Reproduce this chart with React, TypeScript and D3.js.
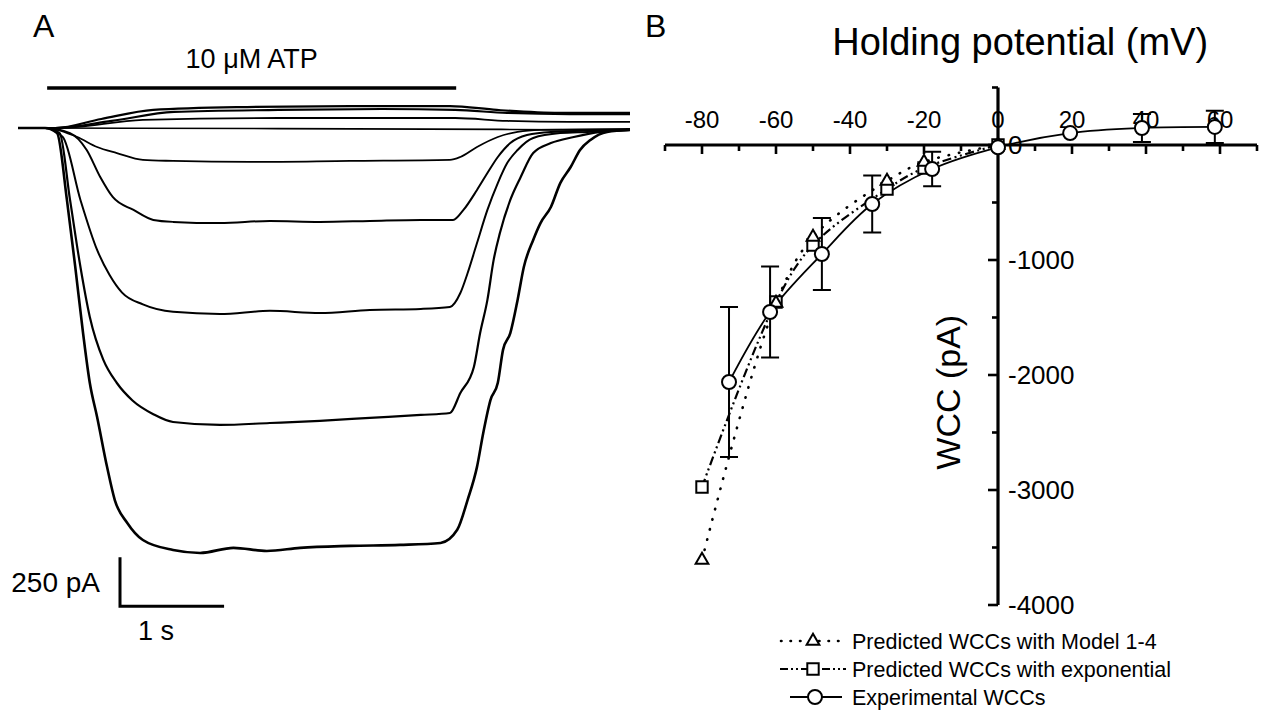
import { useRef, useEffect } from 'react';
import * as d3 from 'd3';

// Panel A: whole-cell current traces, [time (s), current (pA)]
const traceOutA: [number, number][] = [[0, 0], [0.36, 0], [0.8, 46], [1.3, 92], [2.2, 107], [3.2, 112], [4.15, 112], [4.6, 92], [5.2, 77], [5.88, 77]];
const traceOutB: [number, number][] = [[0, 0], [0.36, 0], [0.9, 36], [1.5, 82], [2.5, 92], [3.5, 97], [4.2, 92], [4.7, 77], [5.3, 71], [5.88, 71]];
const traceOutC: [number, number][] = [[0, 0], [0.4, 0], [1.2, 41], [2.5, 51], [4.2, 51], [4.7, 36], [5.3, 31], [5.88, 31]];
const traceFlat: [number, number][] = [[0, 0], [2.5, -3], [5.88, -10]];
const trace1: [number, number][] = [[0, 0], [0.26, 0], [0.57, -46], [0.76, -97], [0.95, -128], [1.2, -163], [1.49, -168], [2.23, -173], [3.19, -168], [4.15, -163], [4.25, -148], [4.41, -97], [4.61, -46], [4.8, -20], [5.02, -10], [5.88, -5]];
const trace2: [number, number][] = [[0, 0], [0.26, 0], [0.5, -26], [0.66, -112], [0.79, -250], [0.91, -352], [1.11, -418], [1.3, -469], [1.49, -479], [1.94, -485], [2.42, -474], [2.9, -479], [3.38, -474], [3.87, -469], [4.18, -469], [4.28, -418], [4.41, -316], [4.51, -230], [4.61, -148], [4.73, -77], [4.89, -36], [5.12, -20], [5.88, -10]];
const trace3: [number, number][] = [[0, 0], [0.26, 0], [0.43, -46], [0.6, -367], [0.76, -622], [0.88, -750], [1.0, -840], [1.2, -900], [1.49, -938], [1.94, -949], [2.42, -933], [2.9, -944], [3.38, -928], [3.87, -923], [4.15, -913], [4.25, -842], [4.32, -740], [4.41, -587], [4.51, -418], [4.61, -281], [4.7, -179], [4.8, -112], [4.95, -51], [5.21, -26], [5.47, -20], [5.88, -10]];
const trace4: [number, number][] = [[0, 0], [0.26, 0], [0.4, -26], [0.5, -367], [0.6, -709], [0.69, -964], [0.82, -1183], [0.95, -1301], [1.1, -1390], [1.3, -1460], [1.49, -1500], [1.94, -1515], [2.42, -1505], [2.9, -1494], [3.38, -1479], [3.87, -1464], [4.15, -1454], [4.25, -1352], [4.38, -1219], [4.44, -1046], [4.51, -877], [4.57, -673], [4.63, -536], [4.73, -367], [4.83, -250], [4.95, -128], [5.12, -77], [5.34, -46], [5.6, -20], [5.88, -10]];
const trace5: [number, number][] = [[0, 0], [0.26, 0], [0.375, -26], [0.47, -367], [0.55, -709], [0.625, -1046], [0.69, -1301], [0.76, -1474], [0.856, -1730], [0.93, -1898], [1.05, -2015], [1.2, -2102], [1.49, -2153], [1.75, -2168], [2.07, -2142], [2.39, -2158], [2.71, -2142], [3.19, -2132], [3.67, -2127], [4.06, -2117], [4.22, -2050], [4.32, -1897], [4.41, -1729], [4.47, -1556], [4.54, -1387], [4.61, -1300], [4.66, -1132], [4.73, -1046], [4.8, -877], [4.86, -709], [4.95, -571], [5.02, -485], [5.12, -403], [5.21, -281], [5.31, -199], [5.4, -112], [5.5, -61], [5.66, -20], [5.88, -10]];
const atpWindow = [0.28, 4.21];

// Panel B: I-V relation
const expVoltage = [-72.7, -61.6, -47.6, -34, -17.8, 0, 19.5, 38.9, 58.6];
const expCurrent = [-2061, -1452, -948, -513, -209, -20, 104, 148, 157];
const expError = [652, 395, 313, 248, 150, 20, 40, 122, 140];
const modelVoltage = [-80, -60, -50, -30, -20, 0];
const modelCurrent = [-3609, -1374, -800, -313, -148, 0];
const expoCurrent = [-2974, -1365, -870, -383, -200, 0];
const xTicks = [-80, -60, -40, -20, 0, 20, 40, 60];
const yTicks = [0, -1000, -2000, -3000, -4000];
const legendLabels = ['Predicted WCCs with Model 1-4', 'Predicted WCCs with exponential', 'Experimental WCCs'];

const FONT = 'Liberation Sans, Arial, Helvetica, sans-serif';

export default function App() {
  const ref = useRef<SVGSVGElement>(null);

  useEffect(() => {
    if (!ref.current) return;
    const svg = d3.select(ref.current);
    svg.selectAll('*').remove();
    svg.append('rect').attr('width', 1270).attr('height', 713).attr('fill', '#fff');

    // ---------- panel A ----------
    const xA = d3.scaleLinear().domain([0, 5.88]).range([18, 630]);
    const yA = d3.scaleLinear().domain([0, -2500]).range([128, 618]);
    const traceLine = d3.line<[number, number]>()
      .x(d => xA(d[0]))
      .y(d => yA(d[1]))
      .curve(d3.curveMonotoneX);

    const gA = svg.append('g');
    gA.append('text').attr('x', 33).attr('y', 37).attr('font-size', 32).attr('font-family', FONT).text('A');
    gA.append('text')
      .attr('x', (xA(atpWindow[0]) + xA(atpWindow[1])) / 2).attr('y', 68)
      .attr('text-anchor', 'middle').attr('font-size', 27).attr('font-family', FONT)
      .text('10 μM ATP');
    gA.append('line')
      .attr('x1', xA(atpWindow[0])).attr('x2', xA(atpWindow[1]))
      .attr('y1', 88).attr('y2', 88)
      .attr('stroke', '#000').attr('stroke-width', 3.5);

    const traces = [traceOutA, traceOutB, traceOutC, traceFlat, trace1, trace2, trace3, trace4, trace5];
    const widths = [2.2, 2.2, 1.8, 1.6, 1.8, 2, 2, 2.2, 2.6];
    traces.forEach((tr, i) => {
      gA.append('path')
        .attr('d', traceLine(tr))
        .attr('fill', 'none')
        .attr('stroke', '#000')
        .attr('stroke-width', widths[i])
        .attr('stroke-linejoin', 'round');
    });

    // scale bar: 1 s x 250 pA
    const sbT = 0.98, sbI = -2440;
    gA.append('path')
      .attr('d', `M${xA(sbT)},${yA(sbI + 250)} V${yA(sbI)} H${xA(sbT + 1)}`)
      .attr('fill', 'none').attr('stroke', '#000').attr('stroke-width', 3);
    gA.append('text').attr('x', xA(sbT) - 20).attr('y', yA(sbI + 125) + 10)
      .attr('text-anchor', 'end').attr('font-size', 28).attr('font-family', FONT).text('250 pA');
    gA.append('text').attr('x', xA(sbT) + 18).attr('y', yA(sbI) + 34)
      .attr('font-size', 27).attr('font-family', FONT).text('1 s');

    // ---------- panel B ----------
    const xB = d3.scaleLinear().domain([-90, 70]).range([665, 1257]);
    const yB = d3.scaleLinear().domain([500, -4000]).range([87.5, 605]);
    const gB = svg.append('g');

    gB.append('text').attr('x', 645).attr('y', 37).attr('font-size', 32).attr('font-family', FONT).text('B');
    gB.append('text').attr('x', xB(6)).attr('y', 55).attr('text-anchor', 'middle')
      .attr('font-size', 38).attr('font-family', FONT).text('Holding potential (mV)');

    // axes
    gB.append('line').attr('x1', xB(-90)).attr('x2', xB(70)).attr('y1', yB(0)).attr('y2', yB(0))
      .attr('stroke', '#000').attr('stroke-width', 3.2);
    gB.append('line').attr('x1', xB(0)).attr('x2', xB(0)).attr('y1', yB(500)).attr('y2', yB(-4000))
      .attr('stroke', '#000').attr('stroke-width', 3.2);

    d3.range(-90, 71, 10).forEach(v => {
      const major = v % 20 === 0;
      gB.append('line').attr('x1', xB(v)).attr('x2', xB(v))
        .attr('y1', yB(0)).attr('y2', yB(0) + (major ? 9 : 6))
        .attr('stroke', '#000').attr('stroke-width', 2.6);
    });
    d3.range(500, -4001, -500).forEach(v => {
      const major = v % 1000 === 0;
      gB.append('line').attr('x1', xB(0)).attr('x2', xB(0) - (major ? 10 : 6))
        .attr('y1', yB(v)).attr('y2', yB(v))
        .attr('stroke', '#000').attr('stroke-width', 2.6);
    });
    gB.append('g').selectAll('text').data(xTicks).join('text')
      .attr('x', d => xB(d)).attr('y', 128).attr('text-anchor', 'middle')
      .attr('font-size', 24).attr('font-family', FONT).text(d => String(d));
    gB.append('g').selectAll('text').data(yTicks).join('text')
      .attr('x', xB(0) + 10).attr('y', d => yB(d) + 9)
      .attr('font-size', 26).attr('font-family', FONT).text(d => String(d));

    gB.append('text')
      .attr('transform', `translate(${xB(0) - 38},${yB(-2150)}) rotate(-90)`)
      .attr('text-anchor', 'middle').attr('font-size', 34).attr('font-family', FONT)
      .text('WCC (pA)');

    const curve = d3.curveCatmullRom.alpha(0.5);
    const modelLine = d3.line<number>().x((_, i) => xB(modelVoltage[i])).y(d => yB(d)).curve(curve);
    const expLine = d3.line<number>().x((_, i) => xB(expVoltage[i])).y(d => yB(d)).curve(curve);

    gB.append('path').attr('d', modelLine(modelCurrent)).attr('fill', 'none')
      .attr('stroke', '#000').attr('stroke-width', 2.6)
      .attr('stroke-dasharray', '0.5 10').attr('stroke-linecap', 'round');
    gB.append('path').attr('d', modelLine(expoCurrent)).attr('fill', 'none')
      .attr('stroke', '#000').attr('stroke-width', 2.2)
      .attr('stroke-dasharray', '9 3.5 2 3.5 2 3.5');
    gB.append('path').attr('d', expLine(expCurrent)).attr('fill', 'none')
      .attr('stroke', '#000').attr('stroke-width', 1.8);

    // error bars (hidden ones, shorter than the marker, are skipped)
    expVoltage.forEach((v, i) => {
      const x = xB(v);
      const y1 = yB(expCurrent[i] + expError[i]);
      const y2 = yB(expCurrent[i] - expError[i]);
      if (y2 - y1 < 16) return;
      gB.append('path')
        .attr('d', `M${x},${y1} V${y2} M${x - 9},${y1} H${x + 9} M${x - 9},${y2} H${x + 9}`)
        .attr('fill', 'none').attr('stroke', '#000').attr('stroke-width', 2);
    });

    const tri = d3.symbol(d3.symbolTriangle, 70);
    const sq = d3.symbol(d3.symbolSquare, 130);
    modelVoltage.forEach((v, i) => {
      gB.append('path').attr('d', sq())
        .attr('transform', `translate(${xB(v)},${yB(expoCurrent[i])})`)
        .attr('fill', '#fff').attr('stroke', '#000').attr('stroke-width', 2);
      gB.append('path').attr('d', tri())
        .attr('transform', `translate(${xB(v)},${yB(modelCurrent[i])})`)
        .attr('fill', '#fff').attr('stroke', '#000').attr('stroke-width', 2);
    });
    expVoltage.forEach((v, i) => {
      gB.append('circle').attr('cx', xB(v)).attr('cy', yB(expCurrent[i])).attr('r', 7)
        .attr('fill', '#fff').attr('stroke', '#000').attr('stroke-width', 2);
    });

    // legend
    const legY = [641, 669, 697];
    const lg = gB.append('g');
    lg.append('line').attr('x1', 781).attr('x2', 845).attr('y1', legY[0]).attr('y2', legY[0])
      .attr('stroke', '#000').attr('stroke-width', 2.6)
      .attr('stroke-dasharray', '0.5 9').attr('stroke-linecap', 'round');
    lg.append('path').attr('d', tri()).attr('transform', `translate(813,${legY[0]})`)
      .attr('fill', '#fff').attr('stroke', '#000').attr('stroke-width', 2);
    lg.append('line').attr('x1', 780).attr('x2', 846).attr('y1', legY[1]).attr('y2', legY[1])
      .attr('stroke', '#000').attr('stroke-width', 2.2)
      .attr('stroke-dasharray', '8 3 2 3 2 3');
    lg.append('path').attr('d', sq()).attr('transform', `translate(813,${legY[1]})`)
      .attr('fill', '#fff').attr('stroke', '#000').attr('stroke-width', 2);
    lg.append('line').attr('x1', 790).attr('x2', 842).attr('y1', legY[2]).attr('y2', legY[2])
      .attr('stroke', '#000').attr('stroke-width', 2);
    lg.append('circle').attr('cx', 815).attr('cy', legY[2]).attr('r', 7)
      .attr('fill', '#fff').attr('stroke', '#000').attr('stroke-width', 2);
    lg.selectAll('text.leg').data(legendLabels).join('text')
      .attr('class', 'leg')
      .attr('x', 852).attr('y', (_, i) => legY[i] + 7.5)
      .attr('font-size', 21.5).attr('font-family', FONT)
      .text(d => d);
  }, []);

  return (
    <svg
      ref={ref}
      width={1270}
      height={713}
      style={{ position: 'absolute', left: 0, top: 0, display: 'block' }}
    />
  );
}
